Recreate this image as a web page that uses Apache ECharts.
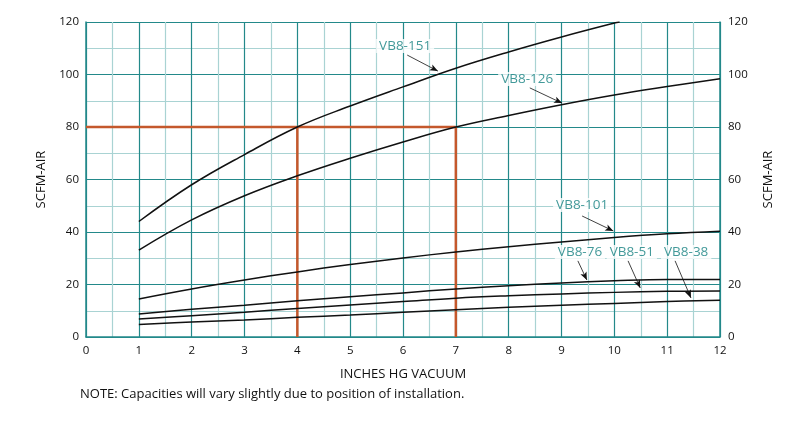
<!DOCTYPE html>
<html>
<head>
<meta charset="utf-8">
<script src="https://cdn.jsdelivr.net/npm/echarts@6/dist/echarts.min.js"></script>
<style>
  html, body { margin: 0; padding: 0; background: #fff; }
  #chart { width: 800px; height: 425px; }
</style>
</head>
<body>
<div id="chart"></div>
<script>
// ---- data ----
var vacuum = [1, 2, 3, 4, 5, 6, 7, 8, 9, 10, 11, 12];
var vb151 = [44, 58, 69.5, 80, 88, 95.3, 102.4, 108.6, 114.3, 119.6];
var vb151End = [10.1, 120];
var vb126 = [33.1, 44.6, 53.8, 61.4, 68.1, 74.3, 80, 84.4, 88.5, 92.2, 95.4, 98.4];
var vb101 = [14.5, 18.3, 21.7, 24.8, 27.6, 30.1, 32.4, 34.4, 36.2, 37.9, 39.3, 40.3];
var vb76  = [8.8, 10.6, 12.1, 13.8, 15.3, 16.8, 18.3, 19.5, 20.6, 21.4, 21.9, 21.9];
var vb51  = [6.9, 8.1, 9.4, 10.9, 12.2, 13.5, 14.8, 15.7, 16.4, 17.0, 17.4, 17.5];
var vb38  = [4.8, 5.7, 6.5, 7.5, 8.4, 9.4, 10.4, 11.3, 12.1, 12.8, 13.5, 14.0];
var seriesNames = ['VB8-151', 'VB8-126', 'VB8-101', 'VB8-76', 'VB8-51', 'VB8-38'];
var xTicks = [0, 1, 2, 3, 4, 5, 6, 7, 8, 9, 10, 11, 12];
var yTicks = [0, 20, 40, 60, 80, 100, 120];
// example guide: 80 SCFM at 4 and 7 in. Hg
var guideFlow = 80;
var guideVacuum = [4, 7];
// callout label anchors [x, y] and arrow [from, to] in data units
var labelPos = [[6.04, 110.9], [8.35, 98.3], [9.39, 50.3], [9.35, 32.4], [10.33, 32.4], [11.36, 32.4]];
var arrowFrom = [[6.08, 107.4], [8.40, 94.9], [9.39, 46.1], [9.31, 29.0], [10.26, 29.0], [11.15, 29.0]];
var arrowTo   = [[6.66, 101.3], [9.01, 89.1], [9.98, 40.4], [9.48, 21.7], [10.49, 18.7], [11.45, 14.9]];

function pairs(xs, ys) {
  var out = [];
  for (var i = 0; i < ys.length; i++) out.push([xs[i], ys[i]]);
  return out;
}

var MAJOR = '#23898a';
var MINOR = '#a9d3d3';
var ORANGE = '#c4582c';
var TEAL_TEXT = '#137f80';
var FONT = 'Open Sans';

var curveData = [
  pairs(vacuum, vb151).concat([vb151End]),
  pairs(vacuum, vb126),
  pairs(vacuum, vb101),
  pairs(vacuum, vb76),
  pairs(vacuum, vb51),
  pairs(vacuum, vb38)
];

var series = [];
// orange guide lines
series.push({
  type: 'line', silent: true, symbol: 'none', z: 3,
  lineStyle: { color: ORANGE, width: 2.5 },
  data: [[0, guideFlow], [guideVacuum[1], guideFlow]]
});
guideVacuum.forEach(function (v) {
  series.push({
    type: 'line', silent: true, symbol: 'none', z: 3,
    lineStyle: { color: ORANGE, width: 2.5 },
    data: [[v, 0], [v, guideFlow]]
  });
});
// pump curves
curveData.forEach(function (d, i) {
  series.push({
    name: seriesNames[i], type: 'line', smooth: 0.4,
    symbol: 'none', z: 4, silent: true,
    lineStyle: { color: '#111', width: 1.5 },
    data: d
  });
});
// arrows
series.push({
  type: 'line', data: [], silent: true, z: 5,
  markLine: {
    silent: true, symbol: ['none', 'arrow'], symbolSize: [5, 8],
    lineStyle: { color: '#111', width: 0.8, type: 'solid' },
    label: { show: false },
    data: arrowFrom.map(function (f, i) {
      return [{ coord: f }, { coord: arrowTo[i] }];
    })
  }
});
// callout labels
series.push({
  type: 'scatter', silent: true, z: 6, symbolSize: 1,
  itemStyle: { color: 'rgba(0,0,0,0)' },
  label: {
    show: true, position: 'inside',
    formatter: function (p) { return seriesNames[p.dataIndex]; },
    color: TEAL_TEXT, fontFamily: FONT, fontSize: 13.5,
    backgroundColor: '#fff', padding: [0, 3]
  },
  data: labelPos
});

var yAxisBase = {
  type: 'value', min: 0, max: 120, interval: 20,
  name: 'SCFM-AIR', nameLocation: 'middle', nameRotate: 90,
  nameTextStyle: { color: '#111', fontFamily: FONT, fontSize: 13 },
  axisTick: { show: false },
  axisLabel: { color: '#111', fontFamily: FONT, fontSize: 11.5 }
};

var option = {
  animation: false,
  backgroundColor: '#fff',
  grid: { left: 86, right: 80, top: 22, bottom: 88, containLabel: false },
  xAxis: {
    type: 'value', min: 0, max: 12, interval: 1,
    name: 'INCHES HG VACUUM', nameLocation: 'middle', nameGap: 31,
    nameTextStyle: { color: '#111', fontFamily: FONT, fontSize: 13 },
    axisLine: { show: true, lineStyle: { color: MAJOR, width: 1.5 } },
    axisTick: { show: false },
    axisLabel: { color: '#111', fontFamily: FONT, fontSize: 11.5, margin: 8,
      formatter: function (v) { return xTicks.indexOf(v) >= 0 ? String(v) : ''; } },
    splitLine: { show: true, lineStyle: { color: MAJOR, width: 1.2 } },
    minorTick: { show: false, splitNumber: 2 },
    minorSplitLine: { show: true, lineStyle: { color: MINOR, width: 1.2 } }
  },
  yAxis: [
    Object.assign({}, yAxisBase, {
      position: 'left', nameGap: 38,
      axisLine: { show: true, lineStyle: { color: MAJOR, width: 1.5 } },
      axisLabel: Object.assign({}, yAxisBase.axisLabel, { margin: 7,
        formatter: function (v) { return yTicks.indexOf(v) >= 0 ? String(v) : ''; } }),
      splitLine: { show: true, lineStyle: { color: MAJOR, width: 1.2 } },
      minorTick: { show: false, splitNumber: 2 },
      minorSplitLine: { show: true, lineStyle: { color: MINOR, width: 1.2 } }
    }),
    Object.assign({}, yAxisBase, {
      position: 'right', nameGap: 42,
      axisLine: { show: true, lineStyle: { color: MAJOR, width: 1.5 } },
      axisLabel: Object.assign({}, yAxisBase.axisLabel, { margin: 8 }),
      splitLine: { show: false }
    })
  ],
  graphic: [{
    type: 'text', left: 80, top: 388,
    style: {
      text: 'NOTE: Capacities will vary slightly due to position of installation.',
      fill: '#111', font: '13px "Open Sans"'
    }
  }],
  series: series
};

var chart = echarts.init(document.getElementById('chart'), null, { renderer: 'canvas' });
chart.setOption(option);
</script>
</body>
</html>
